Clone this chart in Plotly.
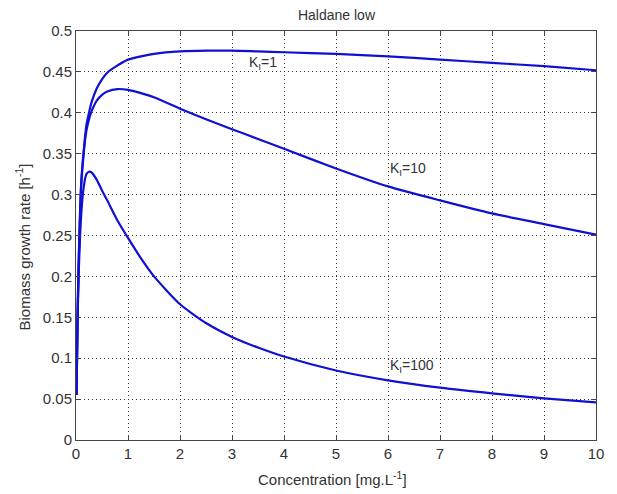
import plotly.graph_objects as go

# Concentration values (mg/L) at which the curves were read
conc = [0.01, 0.03, 0.05, 0.1, 0.15, 0.2, 0.25, 0.3, 0.4, 0.5, 0.6, 0.8, 1.0,
        1.25, 1.5, 2, 2.5, 3, 3.5, 4, 5, 6, 7, 8, 9, 10]

# Biomass growth rate (1/h)
mu_ki1 = [0.055, 0.15, 0.215, 0.315, 0.355, 0.385, 0.40, 0.413, 0.430, 0.441, 0.449, 0.458, 0.465,
          0.469, 0.472, 0.475, 0.476, 0.476, 0.475, 0.474, 0.472, 0.469, 0.465, 0.461, 0.457, 0.452]
mu_ki10 = [0.055, 0.15, 0.212, 0.31, 0.352, 0.378, 0.392, 0.402, 0.415, 0.422, 0.426, 0.429, 0.428,
           0.424, 0.419, 0.405, 0.392, 0.380, 0.368, 0.356, 0.332, 0.310, 0.293, 0.277, 0.264, 0.251]
mu_ki100 = [0.055, 0.145, 0.20, 0.275, 0.31, 0.325, 0.328, 0.327, 0.318, 0.305, 0.293, 0.268, 0.247,
            0.222, 0.200, 0.166, 0.143, 0.126, 0.113, 0.102, 0.085, 0.073, 0.064, 0.057, 0.051, 0.046]

series = [("K<sub>I</sub>=1", mu_ki1), ("K<sub>I</sub>=10", mu_ki10), ("K<sub>I</sub>=100", mu_ki100)]

# label positions (x, y)
label_x = [3.28, 6.0, 6.0]
label_y = [0.461, 0.331, 0.0905]

x_ticks = [0, 1, 2, 3, 4, 5, 6, 7, 8, 9, 10]
y_ticks = [0, 0.05, 0.1, 0.15, 0.2, 0.25, 0.3, 0.35, 0.4, 0.45, 0.5]
y_ticktext = ["0", "0.05", "0.1", "0.15", "0.2", "0.25", "0.3", "0.35", "0.4", "0.45", "0.5"]

line_color = "rgb(16,16,210)"
text_color = "#333333"
font_family = "Liberation Sans, Arial, sans-serif"

# page body adds an 8px offset; shift the figure to compensate
OFF = 8
W, H = 617 - OFF, 494 - OFF

fig = go.Figure()
for name, ys in series:
    fig.add_trace(go.Scatter(x=conc, y=ys, mode="lines", name=name,
                             line=dict(color=line_color, width=2.2, shape="spline", smoothing=0.6),
                             showlegend=False))

for (name, _), lx, ly in zip(series, label_x, label_y):
    fig.add_annotation(x=lx, y=ly, text=name, showarrow=False, xanchor="left", yanchor="middle",
                       font=dict(size=14, color=text_color, family=font_family))

axis_common = dict(showline=True, linecolor="#444444", linewidth=1, mirror="ticks",
                   ticks="inside", ticklen=5, tickcolor="#444444",
                   showgrid=True, gridcolor="#333333", griddash="1px,3px", gridwidth=1,
                   zeroline=False, tickfont=dict(size=15, color=text_color, family=font_family))

fig.update_xaxes(range=[0, 10], tickvals=x_ticks, **axis_common)
fig.update_yaxes(range=[0, 0.5], tickvals=y_ticks, ticktext=y_ticktext, **axis_common)

fig.add_annotation(xref="paper", yref="paper", x=0.493, y=-0.093, text="Concentration [mg.L<sup>-1</sup>]",
                   showarrow=False, xanchor="center", yanchor="middle",
                   font=dict(size=15, color=text_color, family=font_family))
fig.add_annotation(xref="paper", yref="paper", x=-0.102, y=0.473, text="Biomass growth rate [h<sup>-1</sup>]",
                   showarrow=False, xanchor="center", yanchor="middle", textangle=-90,
                   font=dict(size=15, color=text_color, family=font_family))

fig.update_layout(
    width=W, height=H,
    margin=dict(l=76 - OFF, r=21, t=31 - OFF, b=54),
    paper_bgcolor="white", plot_bgcolor="white",
    title=dict(text="Haldane low", x=(336.5 - OFF) / W, xanchor="center", y=1,
               yanchor="top", yref="container", pad=dict(t=2),
               font=dict(size=14, color=text_color, family=font_family)),
)

fig.write_html("out.html")
